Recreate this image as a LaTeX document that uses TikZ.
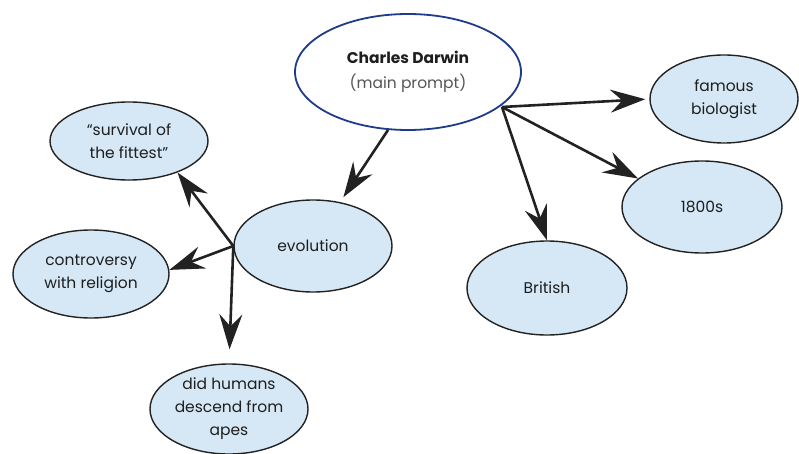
\documentclass[tikz,border=0pt]{standalone}
\usepackage{fontspec}
\setmainfont{Poppins}
\usetikzlibrary{shapes.geometric,arrows.meta}
\definecolor{bubble}{RGB}{214,232,245}
\definecolor{rim}{RGB}{34,34,34}
\definecolor{mainrim}{RGB}{30,60,140}
\definecolor{ink}{RGB}{30,30,30}
\tikzset{
  idea/.style={ellipse, draw=rim, line width=1.4pt, fill=bubble, inner sep=0pt,
    align=center, text=ink, font=\fontsize{15.5}{23}\selectfont},
  centre/.style={ellipse, draw=mainrim, line width=1.8pt, fill=white, inner sep=0pt,
    align=center, text=ink, font=\fontsize{15.5}{25}\selectfont},
  link/.style={draw=rim, line width=2.6pt,
    -{Stealth[length=35pt,width=23pt,inset=12pt]}}
}
\begin{document}
\begin{tikzpicture}[x=1pt,y=-1pt]
\useasboundingbox (0,0) rectangle (799,454);
% central prompt
\node[centre, minimum width=226pt, minimum height=116pt] (main) at (408,72)
  {\bfseries Charles Darwin\\ \color{ink!75}(main prompt)};
% left cluster
\node[idea, minimum width=158pt, minimum height=92pt] (evo) at (313,246) {evolution};
\node[idea, minimum width=158pt, minimum height=78pt] (surv) at (129,141) {“survival of\\the fittest”};
\node[idea, minimum width=156pt, minimum height=88pt] (cont) at (91,274) {controversy\\with religion};
\node[idea, minimum width=158pt, minimum height=90pt] (hum) at (229,409) {did humans\\descend from\\apes};
% right cluster
\node[idea, minimum width=148pt, minimum height=88pt] (fam) at (724,99) {famous\\biologist};
\node[idea, minimum width=160pt, minimum height=92pt] (yrs) at (702,207) {1800s};
\node[idea, minimum width=160pt, minimum height=94pt] (brit) at (547,288) {British};
% connectors
\coordinate (hub) at (502,107);
\draw[link] (main.251) -- ([shift={(3,-5)}]evo.58);
\draw[link] (evo.west) -- (surv.-33);
\draw[link] (evo.west) -- (cont.3);
\draw[link, shorten >=14pt] (evo.west) -- (hum.north);
\draw[link, shorten >=4pt] (hub) -- (fam.west);
\draw[link] (hub) -- (yrs.156);
\draw[link] (hub) -- (brit.north);
\end{tikzpicture}
\end{document}
